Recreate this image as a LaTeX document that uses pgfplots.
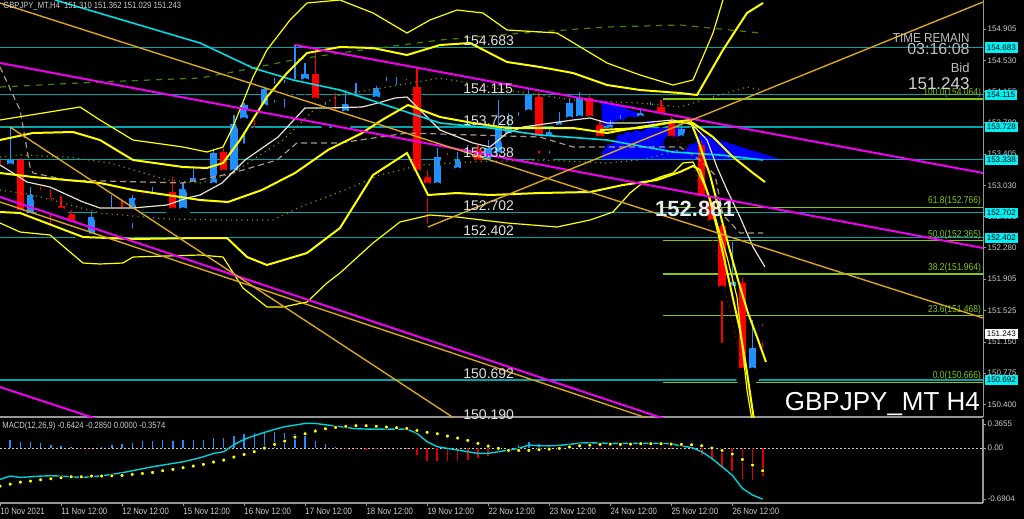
\documentclass[border=0pt]{standalone}
\usepackage{pgfplots}
\pgfplotsset{compat=1.18}
\usepackage{pgfplotstable}
\usepackage{fontspec}
\setmainfont{Liberation Sans}
\newfontfamily\nf[FakeStretch=0.85]{Liberation Sans}
\newfontfamily\nfb[FakeStretch=0.9]{Liberation Sans}
\definecolor{upc}{RGB}{30,144,255}
\definecolor{dnc}{RGB}{255,0,0}
\definecolor{lvl}{RGB}{0,165,170}
\definecolor{cyma}{RGB}{0,220,230}
\definecolor{mag}{RGB}{240,0,240}
\definecolor{gold}{RGB}{218,165,32}
\definecolor{yel}{RGB}{255,255,0}
\definecolor{dgreen}{RGB}{70,130,0}
\definecolor{fib}{RGB}{130,200,20}
\definecolor{wma}{RGB}{235,225,210}
\definecolor{tanc}{RGB}{170,150,130}
\definecolor{olive}{RGB}{140,140,0}
\definecolor{txtg}{RGB}{205,205,205}
\definecolor{framec}{RGB}{150,150,150}
\definecolor{boxc}{RGB}{0,240,245}
\definecolor{macdc}{RGB}{0,210,220}
\definecolor{hdn}{RGB}{220,0,0}
\definecolor{darkred}{RGB}{170,0,0}

\pgfplotstableread{
x o h l c
1 153.200 153.728 153.188 153.332
3 152.612 153.008 152.588 152.912
9 152.360 152.696 152.348 152.648
10 152.636 152.732 152.588 152.684
11 152.672 152.912 152.576 152.720
13 152.672 152.912 152.456 152.876
15 152.828 153.008 152.768 152.888
16 152.876 152.972 152.852 152.936
18 152.672 153.068 152.660 152.984
19 152.984 153.236 152.948 153.116
21 152.972 153.464 152.960 153.416
23 153.128 153.872 153.116 153.764
24 153.752 154.016 153.476 153.992
26 153.908 154.209 153.896 154.185
27 154.149 154.317 153.968 154.173
28 154.161 154.293 153.908 154.209
29 154.209 154.713 154.197 154.233
30 154.221 154.497 154.173 154.365
32 153.896 154.028 153.752 153.968
34 153.836 154.173 153.728 154.004
35 154.004 154.257 153.980 154.065
37 154.004 154.221 153.980 154.197
38 154.185 154.329 154.173 154.221
39 154.137 154.329 154.113 154.209
40 154.197 154.305 154.137 154.209
43 152.972 153.476 152.912 153.368
45 153.152 153.428 153.116 153.332
46 153.332 153.512 153.296 153.452
48 153.248 153.572 153.212 153.476
49 153.332 154.053 153.296 153.716
50 153.572 153.896 153.512 153.728
51 153.764 153.908 153.692 153.848
52 153.848 154.197 153.812 154.113
54 153.536 153.716 153.356 153.668
55 153.668 153.908 153.632 153.788
56 153.764 154.077 153.728 154.016
57 153.776 154.149 153.752 154.077
60 153.632 153.812 153.572 153.752
61 153.728 153.872 153.692 153.812
63 153.776 153.956 153.728 153.896
64 153.896 154.028 153.848 153.968
67 153.536 153.752 153.488 153.704
72 151.735 152.348 151.688 151.868
74 150.751 151.411 150.700 151.075
}\upcandles

\pgfplotstableread{
x o h l c
0 153.260 153.332 153.116 153.188
2 153.332 153.356 152.576 152.648
4 152.912 153.008 152.732 152.876
5 152.876 152.984 152.492 152.780
6 152.780 152.900 152.612 152.672
7 152.684 152.732 152.492 152.528
8 152.528 152.564 152.420 152.456
12 152.732 152.852 152.612 152.672
14 152.888 152.936 152.768 152.828
17 152.948 153.128 152.612 152.672
20 153.128 153.176 153.032 153.104
22 153.428 153.476 153.116 153.128
25 153.980 154.004 153.668 153.908
31 154.365 154.629 153.896 153.992
33 153.860 154.137 153.752 153.824
36 154.053 154.077 153.836 153.980
41 154.209 154.437 153.056 153.128
42 153.128 153.212 152.516 152.972
44 153.368 153.416 153.152 153.296
47 153.452 153.512 153.116 153.248
53 154.089 154.137 153.356 153.536
58 154.077 154.113 153.728 153.776
59 153.752 153.812 153.488 153.536
62 153.788 153.860 153.716 153.764
65 153.968 154.053 153.788 153.812
66 153.812 153.848 153.512 153.536
68 153.704 153.752 153.572 153.632
69 153.512 153.572 152.648 152.816
70 152.816 152.852 152.492 152.528
71 152.540 152.564 151.087 151.735
73 151.856 151.916 150.666 150.751
75 151.310 151.362 151.029 151.243
}\dncandles

\begin{document}
\begin{tikzpicture}
\useasboundingbox (0,0) rectangle (512pt,-259.5pt);
\fill[black] (0,0) rectangle (512pt,-259.5pt);
\begin{axis}[
  at={(0pt,0pt)}, anchor=north west, scale only axis,
  width=491.5pt, height=208.5pt,
  xmin=0, xmax=96.66, ymin=150.249, ymax=155.253,
  clip mode=individual,
  axis x line*=bottom, axis y line*=right,
  x axis line style={draw=framec, line width=1pt},
  y axis line style={draw=framec, line width=0.5pt},
  xtick=\empty,
  ytick={154.905,154.530,154.155,153.780,153.405,153.030,152.655,152.280,151.905,151.525,151.150,150.775,150.400},
  yticklabels={154.905,154.530,154.155,153.780,153.405,153.030,152.655,152.280,151.905,151.525,151.150,150.775,150.400},
  ytick align=outside, major tick length=1.5pt,
  tick style={draw=framec, line width=0.4pt},
  yticklabel style={font=\fontsize{4}{4.5}\selectfont, text=txtg, anchor=west, inner sep=0pt, xshift=0.6pt},
]
% blue triangle
\addplot[fill=blue, draw=none] coordinates {(59.19,154.053) (66.86,153.717) (76.99,153.333) (59.19,153.333)} -- cycle;
% horizontal levels
\pgfplotsinvokeforeach{154.683,154.115,153.728,153.338,152.702,152.402,150.692}{
  \addplot[lvl, line width=0.6pt] coordinates {(0,#1) (96.66,#1)};
}
% fib lines
\pgfplotsinvokeforeach{154.064,152.766,152.365,151.964,151.468,150.666}{
  \addplot[fib, line width=0.6pt] coordinates {(65.2,#1) (96.66,#1)};
}
% candles: wicks
\addplot[only marks, mark=none, line width=0.6pt, error bars/.cd, y dir=plus, y explicit, error mark=none,
  error bar style={draw=upc, line width=0.6pt}] table[x=x, y=l, y error expr=\thisrow{h}-\thisrow{l}] {\upcandles};
\addplot[only marks, mark=none, line width=0.6pt, error bars/.cd, y dir=plus, y explicit, error mark=none,
  error bar style={draw=dnc, line width=0.6pt}] table[x=x, y=l, y error expr=\thisrow{h}-\thisrow{l}] {\dncandles};
% candles: bodies
\addplot[only marks, mark=none, line width=3.6pt, error bars/.cd, y dir=plus, y explicit, error mark=none,
  error bar style={draw=upc, line width=3.6pt}] table[x=x, y=o, y error expr=\thisrow{c}-\thisrow{o}+0.006] {\upcandles};
\addplot[only marks, mark=none, line width=3.6pt, error bars/.cd, y dir=plus, y explicit, error mark=none,
  error bar style={draw=dnc, line width=3.6pt}] table[x=x, y=c, y error expr=\thisrow{o}-\thisrow{c}+0.006] {\dncandles};
% olive dotted
\addplot[olive, dotted, line width=0.6pt] coordinates {(0,153.369) (1.97,153.393) (6.59,153.369) (10.82,153.297) (16.42,153.093) (19.67,153.057) (22.91,153.177) (27.83,153.573) (31.17,153.969) (33.43,154.113) (43.27,154.317) (49.85,154.173) (56.34,154.053) (62.93,154.017) (66.86,153.969) (70.11,154.089) (73.45,154.209) (74.93,154.173)};
\addplot[olive, dotted, line width=0.6pt] coordinates {(0,152.973) (3.24,152.913) (9.83,152.697) (16.42,152.625) (22.91,152.613) (26.84,152.613) (29.50,152.769) (33.92,152.973) (37.37,153.153) (41.30,153.273) (46.22,153.309) (53.10,153.333) (59.69,153.297) (62.93,153.333) (66.86,153.453)};
% dark green dashed
\addplot[dgreen, dashed, line width=0.6pt] coordinates {(0,154.209) (9.83,154.269) (19.67,154.317) (22.91,154.389) (28.81,154.533) (33.43,154.617) (43.27,154.773) (51.43,154.857) (59.69,154.929) (66.86,154.953) (74.73,154.857)};
% tan dashed
\addplot[tanc, dash pattern=on 3pt off 2pt, line width=0.6pt] coordinates {(0,154.449) (1.97,153.933) (2.95,153.249) (3.24,153.177) (6.59,153.093) (17.99,153.057) (22.91,153.177) (27.24,153.333) (29.20,153.537) (33.43,153.537) (40.02,153.657) (53.10,153.609) (56.34,153.489) (62.93,153.489) (66.86,153.489) (68.83,153.333) (70.31,153.153) (71.09,152.673) (72.76,152.457) (75.03,152.457)};
% red dotted
\addplot[darkred, dotted, line width=0.6pt] coordinates {(66.18,153.609) (67.85,153.453) (68.83,152.973) (69.81,152.493) (70.80,152.013) (71.78,151.533) (73.06,150.813)};
% white MA
\addplot[wma, line width=0.6pt] coordinates {(0,153.273) (1.28,153.177) (2.65,153.069) (4.92,153.009) (8.16,152.829) (9.83,152.757) (13.08,152.757) (16.42,152.793) (18.39,152.877) (19.67,152.913) (21.83,153.057) (24.09,153.333) (27.34,153.609) (29.99,153.957) (32.25,153.957) (35.60,153.969) (37.17,154.017) (38.84,154.077) (40.02,154.089) (41.59,153.897) (43.27,153.693) (46.51,153.537) (48.18,153.489) (49.85,153.657) (51.43,153.729) (56.34,153.813) (58.02,153.837) (59.69,153.777) (62.93,153.777) (66.18,153.813) (68.14,153.753) (69.52,153.573) (70.50,153.249) (71.49,152.973) (72.76,152.649) (74.04,152.289) (75.22,152.049)};
% cyan MA
\addplot[cyma, line width=0.8pt] coordinates {(5.41,155.253) (19.67,154.737) (24.88,154.437) (28.81,154.293) (33.43,154.173) (43.27,153.777) (48.18,153.717) (53.10,153.633) (59.69,153.573) (66.18,153.429) (70.80,153.393) (75.03,153.333)};
% yellow outer upper (thin)
\addplot[yel, line width=0.6pt] coordinates {(0,153.813) (7.87,153.969) (9.83,153.813) (13.08,153.573) (17.99,153.489) (20.35,153.429) (21.93,153.489) (22.91,153.729) (24.88,154.329) (26.25,154.653) (28.52,155.013) (30.19,155.217) (33.43,155.253) (36.68,155.097) (40.02,154.857) (42.28,155.013) (44.94,155.133) (47.49,155.097) (49.85,154.893) (54.77,154.857) (59.69,154.497) (62.93,154.353) (66.18,154.233) (68.14,154.293) (70.11,154.857) (71.09,155.253)};
% yellow inner upper (thick)
\addplot[yel, line width=1pt] coordinates {(0,153.573) (3.24,153.657) (7.18,153.669) (9.83,153.573) (13.08,153.333) (17.99,153.249) (20.35,153.237) (21.93,153.297) (23.60,153.573) (26.25,154.089) (28.22,154.377) (30.19,154.617) (33.43,154.689) (36.68,154.677) (40.02,154.593) (43.27,154.713) (46.22,154.737) (49.85,154.509) (53.10,154.449) (56.34,154.377) (59.69,154.233) (62.93,154.173) (66.86,154.137) (68.54,154.113) (71.09,154.653) (73.45,155.097) (75.03,155.217)};
% yellow middle (thick)
\addplot[yel, line width=1pt] coordinates {(0,153.177) (3.24,153.129) (9.83,153.057) (13.08,152.973) (16.42,152.913) (19.67,152.853) (22.42,152.829) (25.76,152.973) (29.01,153.177) (32.25,153.453) (35.60,153.657) (37.56,153.813) (40.12,153.993) (43.27,153.849) (46.51,153.777) (49.85,153.717) (53.10,153.717) (56.34,153.717) (59.69,153.657) (62.93,153.729) (66.18,153.789) (68.14,153.777) (70.11,153.609) (72.08,153.369) (74.04,153.177) (75.22,153.069)};
% yellow inner lower (thick)
\addplot[yel, line width=1pt] coordinates {(0,152.709) (1.97,152.697) (8.16,152.409) (13.08,152.385) (19.67,152.397) (22.32,152.397) (24.29,152.169) (26.25,152.073) (30.19,152.217) (33.43,152.517) (36.68,153.153) (40.02,153.417) (42.09,152.913) (44.94,152.937) (48.18,152.913) (53.10,152.937) (58.02,152.949) (61.26,153.033) (64.60,153.093) (66.86,153.189) (68.14,153.261) (68.83,153.213) (69.81,152.853) (70.80,152.373) (71.78,151.833) (72.76,151.293) (73.45,150.789) (74.14,150.213)};
% yellow outer lower (thin)
\addplot[yel, line width=0.6pt] coordinates {(0,152.577) (1.97,152.469) (4.92,152.433) (8.16,152.097) (9.83,152.085) (12.09,152.097) (13.08,152.169) (19.67,152.193) (21.93,152.169) (23.89,151.797) (26.25,151.569) (27.83,151.569) (30.19,151.629) (32.15,151.857) (33.43,151.977) (36.68,152.337) (39.33,152.589) (42.28,152.673) (44.94,152.649) (49.85,152.577) (54.77,152.529) (58.02,152.613) (60.28,152.709) (61.95,152.937) (62.93,153.033) (64.90,153.129) (66.18,153.177) (67.16,153.297) (68.14,153.309) (69.52,152.973) (70.50,152.577) (71.49,152.169) (72.47,151.689) (73.06,151.017) (73.45,150.573) (73.94,150.213)};
% fast MA
\addplot[yel, line width=1pt] coordinates {(59.00,153.693) (62.93,153.717) (66.18,153.789) (67.85,153.813) (68.63,153.573) (69.81,153.153) (71.49,152.373) (72.57,151.893) (73.55,151.497) (74.44,151.209) (75.32,150.909)};
% trend lines
\addplot[mag, line width=1pt] coordinates {(0,154.497) (96.66,152.277)};
\addplot[mag, line width=1pt] coordinates {(29.01,154.713) (96.66,153.177)};
\addplot[gold, line width=0.7pt] coordinates {(0,152.829) (66.86,150.105)};
\addplot[mag, line width=1pt] coordinates {(0,152.889) (66.86,150.165)};
\addplot[mag, line width=1pt] coordinates {(0,150.609) (9.83,150.213)};
\addplot[gold, line width=0.7pt] coordinates {(0,155.217) (96.66,151.437)};
\addplot[gold, line width=0.7pt] coordinates {(0.98,153.729) (45.23,150.189)};
\addplot[gold, line width=0.7pt] coordinates {(42.08,152.529) (96.66,155.229)};
% coordinates for labels
\coordinate (b1) at (axis cs:96.66,154.683);
\coordinate (b2) at (axis cs:96.66,154.115);
\coordinate (b3) at (axis cs:96.66,153.728);
\coordinate (b4) at (axis cs:96.66,153.338);
\coordinate (b5) at (axis cs:96.66,152.702);
\coordinate (b6) at (axis cs:96.66,152.402);
\coordinate (b7) at (axis cs:96.66,150.692);
\coordinate (b8) at (axis cs:96.66,151.243);
\coordinate (t1) at (axis cs:45.53,154.683);
\coordinate (t2) at (axis cs:45.53,154.115);
\coordinate (t3) at (axis cs:45.53,153.728);
\coordinate (t4) at (axis cs:45.53,153.338);
\coordinate (t5) at (axis cs:45.53,152.702);
\coordinate (t6) at (axis cs:45.53,152.402);
\coordinate (t7) at (axis cs:45.53,150.692);
\coordinate (t8) at (axis cs:45.53,150.201);
\coordinate (f1) at (axis cs:96.5,154.064);
\coordinate (f2) at (axis cs:96.5,152.766);
\coordinate (f3) at (axis cs:96.5,152.365);
\coordinate (f4) at (axis cs:96.5,151.964);
\coordinate (f5) at (axis cs:96.5,151.468);
\coordinate (f6) at (axis cs:96.5,150.666);
\coordinate (big) at (axis cs:96.40,150.333);
\coordinate (tr) at (axis cs:95.38,154.737);
\coordinate (tm) at (axis cs:95.38,154.593);
\coordinate (bd) at (axis cs:95.38,154.377);
\coordinate (bp) at (axis cs:95.38,154.173);
\coordinate (p881) at (axis cs:68.34,152.745);
\coordinate (tl) at (rel axis cs:0,1);
\end{axis}

\tikzset{lv/.style={font=\fontsize{7}{8}\selectfont, text={rgb,255:red,225;green,225;blue,225}, inner sep=0pt, anchor=south west, yshift=0.6pt},
  cb/.style={font=\fontsize{4}{4.5}\selectfont, fill=boxc, text=black, inner xsep=1pt, inner ysep=1.1pt, anchor=west, xshift=0.7pt},
  fb/.style={font=\nf\fontsize{5}{6}\selectfont, text=fib, inner sep=0pt, anchor=south east, yshift=0.4pt}}
\node[lv] at (t1) {154.683};
\node[lv] at (t2) {154.115};
\node[lv] at (t3) {153.728};
\node[lv] at (t4) {153.338};
\node[lv] at (t5) {152.702};
\node[lv] at (t6) {152.402};
\node[lv] at (t7) {150.692};
\node[lv] at (t8) {150.190};
\node[fb] at (f1) {100.0(154.064)};
\node[fb] at (f2) {61.8(152.766)};
\node[fb] at (f3) {50.0(152.365)};
\node[fb] at (f4) {38.2(151.964)};
\node[fb] at (f5) {23.6(151.468)};
\node[fb] at (f6) {0.0(150.666)};
\node[cb] at (b1) {154.683};
\node[cb] at (b2) {154.115};
\node[cb] at (b3) {153.728};
\node[cb] at (b4) {153.338};
\node[cb] at (b5) {152.702};
\node[cb] at (b6) {152.402};
\node[cb] at (b7) {150.692};
\node[cb, fill=white] at (b8) {151.243};
\node[anchor=base east, inner sep=0pt, text=white, font=\fontsize{13}{14}\selectfont] at (big) {GBPJPY\_MT H4};
\node[anchor=base east, inner sep=0pt, text={rgb,255:red,190;green,190;blue,190}, font=\nfb\fontsize{6.5}{7}\selectfont] at (tr) {TIME REMAIN};
\node[anchor=base east, inner sep=0pt, text={rgb,255:red,190;green,190;blue,190}, font=\fontsize{8}{9}\selectfont] at (tm) {03:16:08};
\node[anchor=base east, inner sep=0pt, text={rgb,255:red,190;green,190;blue,190}, font=\fontsize{6.5}{7}\selectfont] at (bd) {Bid};
\node[anchor=base east, inner sep=0pt, text={rgb,255:red,210;green,210;blue,210}, font=\fontsize{8.5}{9}\selectfont] at (bp) {151.243};
\node[inner sep=0pt, text={rgb,255:red,235;green,235;blue,235}, font=\bfseries\fontsize{11}{12}\selectfont] at (p881) {152.881};
\node[anchor=north west, inner sep=0pt, xshift=1.5pt, yshift=-0.8pt, text=txtg, font=\nf\fontsize{4.5}{5}\selectfont] at (tl) {GBPJPY\_MT,H4\ \ 151.310 151.362 151.029 151.243};

\begin{axis}[
  at={(0pt,-209.5pt)}, anchor=north west, scale only axis,
  width=491.5pt, height=42pt,
  xmin=0, xmax=96.66, ymin=-0.6904, ymax=0.3655,
  axis background/.style={fill=black},
  clip mode=individual,
  axis x line*=bottom, axis y line*=right,
  axis line style={draw=framec, line width=0.6pt},
  xtick={0,6,...,72},
  xticklabels={10 Nov 2021,11 Nov 12:00,12 Nov 12:00,15 Nov 12:00,16 Nov 12:00,17 Nov 12:00,18 Nov 12:00,19 Nov 12:00,22 Nov 12:00,23 Nov 12:00,24 Nov 12:00,25 Nov 12:00,26 Nov 12:00},
  xticklabel style={font=\nf\fontsize{4.6}{5}\selectfont, text=txtg, anchor=north west, inner sep=0pt, yshift=-1pt},
  ytick={-0.642,0,0.302},
  yticklabels={-0.6904,0.00,0.3655},
  yticklabel style={font=\fontsize{4}{4.5}\selectfont, text=txtg, anchor=west, inner sep=0pt, xshift=0.6pt},
  tick align=outside, major tick length=1.5pt,
  tick style={draw=framec, line width=0.4pt},
]
\addplot[txtg, dash pattern=on 1pt off 1pt, line width=0.4pt] coordinates {(0,0) (96.66,0)};
\addplot[ycomb, draw=upc, line width=0.7pt, mark=none] coordinates {(1,0.105) (2,0.075) (3,0.071) (4,0.059) (5,0.042) (6,0.025) (7,0.008) (10,0.017) (11,0.034) (12,0.046) (13,0.067) (14,0.084) (15,0.092) (16,0.101) (17,0.084) (18,0.101) (19,0.105) (20,0.101) (21,0.130) (22,0.122) (23,0.147) (24,0.180) (25,0.189) (26,0.197) (27,0.205) (28,0.184) (29,0.172) (30,0.189) (31,0.092) (32,0.054) (33,0.017) (51,0.034) (52,0.071) (53,0.050) (54,0.042) (55,0.021) (56,0.029) (57,0.046) (58,0.050)};
\addplot[ycomb, draw=hdn, line width=0.8pt, mark=none] coordinates {(8,-0.004) (9,-0.004) (34,-0.008) (35,-0.008) (36,-0.021) (37,-0.013) (38,-0.013) (39,-0.008) (40,-0.008) (41,-0.084) (42,-0.159) (43,-0.168) (44,-0.168) (45,-0.168) (46,-0.147) (47,-0.126) (48,-0.096) (49,-0.021) (50,-0.013) (59,-0.008) (60,-0.008) (61,-0.008) (62,-0.008) (63,-0.008) (64,-0.008) (65,-0.008) (66,-0.008) (67,-0.008) (68,-0.008) (69,-0.084) (70,-0.147) (71,-0.251) (72,-0.285) (73,-0.385) (74,-0.398) (75,-0.357)};
\addplot[macdc, line width=0.7pt] coordinates {(0,-0.394) (1,-0.352) (2,-0.369) (3,-0.361) (4,-0.352) (5,-0.348) (6,-0.352) (7,-0.361) (8,-0.369) (9,-0.361) (10,-0.348) (11,-0.331) (12,-0.310) (13,-0.285) (14,-0.260) (15,-0.235) (16,-0.214) (17,-0.193) (18,-0.172) (19,-0.143) (20,-0.109) (21,-0.067) (22,-0.046) (23,0.042) (24,0.109) (25,0.155) (26,0.197) (27,0.235) (28,0.269) (29,0.289) (30,0.310) (31,0.310) (32,0.293) (33,0.277) (34,0.260) (35,0.243) (36,0.239) (37,0.239) (38,0.239) (39,0.239) (40,0.239) (41,0.185) (42,0.080) (43,0.017) (44,-0.004) (45,-0.025) (46,-0.046) (47,-0.067) (48,-0.067) (49,-0.046) (50,-0.025) (51,-0.004) (52,0.038) (53,0.029) (54,0.029) (55,0.034) (56,0.046) (57,0.063) (58,0.067) (59,0.063) (60,0.059) (61,0.059) (62,0.059) (63,0.059) (64,0.059) (65,0.059) (66,0.055) (67,0.025) (68,0.008) (69,-0.046) (70,-0.130) (71,-0.235) (72,-0.340) (73,-0.507) (74,-0.591) (75,-0.642)};
\addplot[only marks, mark=*, mark size=1.05pt, mark options={fill=yel, draw=none}] coordinates {(0,-0.478) (1,-0.453) (2,-0.428) (3,-0.415) (4,-0.398) (5,-0.386) (6,-0.373) (7,-0.361) (8,-0.361) (9,-0.352) (10,-0.352) (11,-0.348) (12,-0.344) (13,-0.331) (14,-0.319) (15,-0.306) (16,-0.285) (17,-0.268) (18,-0.247) (19,-0.226) (20,-0.205) (21,-0.176) (22,-0.151) (23,-0.113) (24,-0.080) (25,-0.046) (26,0.000) (27,0.046) (28,0.088) (29,0.138) (30,0.180) (31,0.214) (32,0.243) (33,0.260) (34,0.273) (35,0.281) (36,0.281) (37,0.273) (38,0.264) (39,0.256) (40,0.247) (41,0.222) (42,0.197) (43,0.180) (44,0.151) (45,0.126) (46,0.096) (47,0.059) (48,0.025) (49,-0.004) (50,-0.029) (51,-0.029) (52,-0.029) (53,-0.021) (54,-0.013) (55,-0.004) (56,0.013) (57,0.029) (58,0.038) (59,0.046) (60,0.050) (61,0.046) (62,0.050) (63,0.055) (64,0.055) (65,0.055) (66,0.050) (67,0.046) (68,0.042) (69,0.029) (70,0.000) (71,-0.029) (72,-0.075) (73,-0.143) (74,-0.214) (75,-0.285)};
\node[anchor=north west, inner sep=0pt, xshift=1pt, yshift=-1.2pt, text=txtg, font=\nf\fontsize{4.5}{5}\selectfont] at (rel axis cs:0,1) {MACD(12,26,9) -0.6424 -0.2850 0.0000 -0.3574};
\end{axis}
\end{tikzpicture}
\end{document}
